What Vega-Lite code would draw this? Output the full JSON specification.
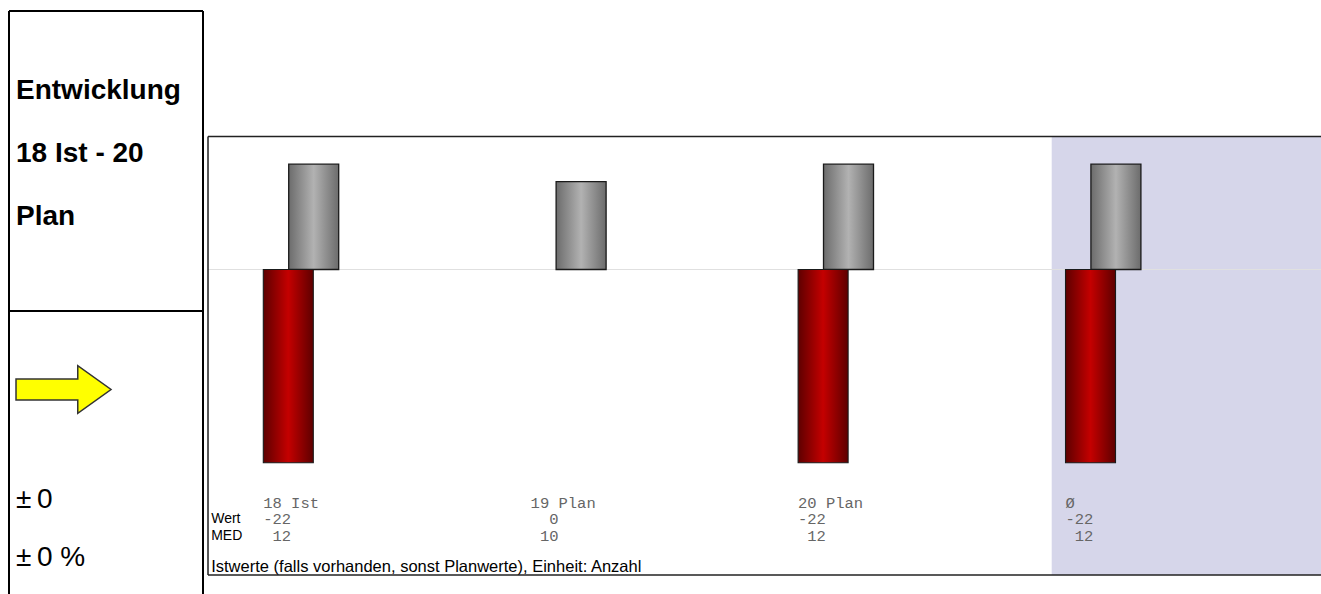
{
  "$schema": "https://vega.github.io/schema/vega-lite/v6.json",
  "padding": {"left": 8, "top": 10, "right": 0, "bottom": 0},
  "background": "white",
  "bounds": "flush",
  "spacing": 5,
  "config": {"view": {"stroke": null}},
  "datasets": {
    "bars": [
      {"kat": "18 Ist", "wert": -22, "med": 12},
      {"kat": "19 Plan", "wert": 0, "med": 10},
      {"kat": "20 Plan", "wert": -22, "med": 12},
      {"kat": "Ø", "wert": -22, "med": 12}
    ]
  },
  "resolve": {"scale": {"x": "independent", "y": "independent"}},
  "hconcat": [
    {
      "width": 194,
      "height": 584,
      "data": {"values": [{}]},
      "layer": [
        {
          "mark": {"type": "rule", "color": "black", "strokeWidth": 2},
          "encoding": {
            "x": {"datum": 0, "type": "quantitative", "scale": {"domain": [0, 1], "nice": false}, "axis": null},
            "x2": {"datum": 1},
            "y": {"datum": 1, "type": "quantitative", "scale": {"domain": [0, 1], "nice": false}, "axis": null}
          }
        },
        {
          "mark": {"type": "rule", "color": "black", "strokeWidth": 2},
          "encoding": {
            "x": {"datum": 0, "type": "quantitative", "scale": {"domain": [0, 1], "nice": false}, "axis": null},
            "x2": {"datum": 1},
            "y": {"datum": 0.4863, "type": "quantitative", "scale": {"domain": [0, 1], "nice": false}, "axis": null}
          }
        },
        {
          "mark": {"type": "rule", "color": "black", "strokeWidth": 2},
          "encoding": {
            "x": {"datum": 0, "type": "quantitative", "scale": {"domain": [0, 1], "nice": false}, "axis": null},
            "y": {"datum": 0, "type": "quantitative", "scale": {"domain": [0, 1], "nice": false}, "axis": null},
            "y2": {"datum": 1}
          }
        },
        {
          "mark": {"type": "rule", "color": "black", "strokeWidth": 2},
          "encoding": {
            "x": {"datum": 1, "type": "quantitative", "scale": {"domain": [0, 1], "nice": false}, "axis": null},
            "y": {"datum": 0, "type": "quantitative", "scale": {"domain": [0, 1], "nice": false}, "axis": null},
            "y2": {"datum": 1}
          }
        },
        {
          "mark": {"type": "text", "text": "Entwicklung", "font": "Liberation Sans", "fontWeight": "bold", "fontSize": 28, "align": "left", "baseline": "alphabetic", "dx": 7, "color": "black"},
          "encoding": {
            "x": {"datum": 0, "type": "quantitative", "scale": {"domain": [0, 1], "nice": false}, "axis": null},
            "y": {"datum": 0.8493, "type": "quantitative", "scale": {"domain": [0, 1], "nice": false}, "axis": null}
          }
        },
        {
          "mark": {"type": "text", "text": "18 Ist - 20", "font": "Liberation Sans", "fontWeight": "bold", "fontSize": 28, "align": "left", "baseline": "alphabetic", "dx": 7, "color": "black"},
          "encoding": {
            "x": {"datum": 0, "type": "quantitative", "scale": {"domain": [0, 1], "nice": false}, "axis": null},
            "y": {"datum": 0.7414, "type": "quantitative", "scale": {"domain": [0, 1], "nice": false}, "axis": null}
          }
        },
        {
          "mark": {"type": "text", "text": "Plan", "font": "Liberation Sans", "fontWeight": "bold", "fontSize": 28, "align": "left", "baseline": "alphabetic", "dx": 7, "color": "black"},
          "encoding": {
            "x": {"datum": 0, "type": "quantitative", "scale": {"domain": [0, 1], "nice": false}, "axis": null},
            "y": {"datum": 0.6336, "type": "quantitative", "scale": {"domain": [0, 1], "nice": false}, "axis": null}
          }
        },
        {
          "mark": {"type": "point", "shape": "M -1 -0.22 L 0.3 -0.22 L 0.3 -0.5 L 1 0 L 0.3 0.5 L 0.3 0.22 L -1 0.22 Z", "size": 9025, "filled": true, "fill": "#ffff00", "stroke": "#333333", "strokeWidth": 1.5, "opacity": 1},
          "encoding": {
            "x": {"datum": 0.281, "type": "quantitative", "scale": {"domain": [0, 1], "nice": false}, "axis": null},
            "y": {"datum": 0.3519, "type": "quantitative", "scale": {"domain": [0, 1], "nice": false}, "axis": null}
          }
        },
        {
          "mark": {"type": "text", "text": "±\u20090", "font": "Liberation Sans", "fontSize": 28, "align": "left", "baseline": "alphabetic", "dx": 7, "color": "black"},
          "encoding": {
            "x": {"datum": 0, "type": "quantitative", "scale": {"domain": [0, 1], "nice": false}, "axis": null},
            "y": {"datum": 0.149, "type": "quantitative", "scale": {"domain": [0, 1], "nice": false}, "axis": null}
          }
        },
        {
          "mark": {"type": "text", "text": "±\u20090 %", "font": "Liberation Sans", "fontSize": 28, "align": "left", "baseline": "alphabetic", "dx": 7, "color": "black"},
          "encoding": {
            "x": {"datum": 0, "type": "quantitative", "scale": {"domain": [0, 1], "nice": false}, "axis": null},
            "y": {"datum": 0.0497, "type": "quantitative", "scale": {"domain": [0, 1], "nice": false}, "axis": null}
          }
        }
      ]
    },
    {
      "width": 1114,
      "height": 584,
      "data": {"name": "bars"},
      "layer": [
        {
          "data": {"values": [{}]},
          "mark": {"type": "rect", "color": "#d6d6ea"},
          "encoding": {
            "x": {"datum": "Ø", "type": "nominal", "bandPosition": 0, "scale": {"domain": ["18 Ist", "19 Plan", "20 Plan", "Ø"], "paddingInner": 0, "paddingOuter": 0.083, "align": 0.935}, "axis": null},
            "x2": {"value": "width"},
            "y": {"datum": 15.15, "type": "quantitative", "scale": {"domain": [-37.07, 29.44], "nice": false, "zero": false}, "axis": null},
            "y2": {"datum": -34.79}
          }
        },
        {
          "data": {"values": [{}]},
          "mark": {"type": "rule", "color": "#e0e0e0", "strokeWidth": 1},
          "encoding": {
            "x": {"value": 0},
            "x2": {"value": "width"},
            "y": {"datum": 0, "type": "quantitative", "scale": {"domain": [-37.07, 29.44], "nice": false, "zero": false}, "axis": null}
          }
        },
        {
          "mark": {"type": "bar", "width": 50, "xOffset": -69.5, "stroke": "#1a1a1a", "strokeWidth": 1.3,
            "fill": {"gradient": "linear", "x1": 0, "x2": 1, "y1": 0, "y2": 0, "stops": [{"offset": 0, "color": "#6c6c6c"}, {"offset": 0.5, "color": "#b2b2b2"}, {"offset": 1, "color": "#6c6c6c"}]}},
          "encoding": {
            "x": {"field": "kat", "type": "nominal", "scale": {"domain": ["18 Ist", "19 Plan", "20 Plan", "Ø"], "paddingInner": 0, "paddingOuter": 0.083, "align": 0.935}, "axis": null},
            "y": {"field": "med", "type": "quantitative", "scale": {"domain": [-37.07, 29.44], "nice": false, "zero": false}, "axis": null},
            "y2": {"datum": 0}
          }
        },
        {
          "transform": [{"filter": "datum.wert != 0"}],
          "mark": {"type": "bar", "width": 50, "xOffset": -94.9, "stroke": "#1a1a1a", "strokeWidth": 1.1,
            "fill": {"gradient": "linear", "x1": 0, "x2": 1, "y1": 0, "y2": 0, "stops": [{"offset": 0, "color": "#5e0000"}, {"offset": 0.5, "color": "#c40000"}, {"offset": 1, "color": "#5e0000"}]}},
          "encoding": {
            "x": {"field": "kat", "type": "nominal", "scale": {"domain": ["18 Ist", "19 Plan", "20 Plan", "Ø"], "paddingInner": 0, "paddingOuter": 0.083, "align": 0.935}, "axis": null},
            "y": {"field": "wert", "type": "quantitative", "scale": {"domain": [-37.07, 29.44], "nice": false, "zero": false}, "axis": null},
            "y2": {"datum": 0}
          }
        },
        {
          "mark": {"type": "text", "align": "left", "baseline": "middle", "dx": -120, "font": "Liberation Mono", "fontSize": 15.5, "color": "#666666"},
          "encoding": {
            "x": {"field": "kat", "type": "nominal", "scale": {"domain": ["18 Ist", "19 Plan", "20 Plan", "Ø"], "paddingInner": 0, "paddingOuter": 0.083, "align": 0.935}, "axis": null},
            "y": {"datum": -26.6, "type": "quantitative", "scale": {"domain": [-37.07, 29.44], "nice": false, "zero": false}, "axis": null},
            "text": {"field": "kat"}
          }
        },
        {
          "mark": {"type": "text", "align": "right", "baseline": "middle", "dx": -92.1, "font": "Liberation Mono", "fontSize": 15.5, "color": "#666666"},
          "encoding": {
            "x": {"field": "kat", "type": "nominal", "scale": {"domain": ["18 Ist", "19 Plan", "20 Plan", "Ø"], "paddingInner": 0, "paddingOuter": 0.083, "align": 0.935}, "axis": null},
            "y": {"datum": -28.42, "type": "quantitative", "scale": {"domain": [-37.07, 29.44], "nice": false, "zero": false}, "axis": null},
            "text": {"field": "wert", "type": "nominal"}
          }
        },
        {
          "mark": {"type": "text", "align": "right", "baseline": "middle", "dx": -92.1, "font": "Liberation Mono", "fontSize": 15.5, "color": "#666666"},
          "encoding": {
            "x": {"field": "kat", "type": "nominal", "scale": {"domain": ["18 Ist", "19 Plan", "20 Plan", "Ø"], "paddingInner": 0, "paddingOuter": 0.083, "align": 0.935}, "axis": null},
            "y": {"datum": -30.32, "type": "quantitative", "scale": {"domain": [-37.07, 29.44], "nice": false, "zero": false}, "axis": null},
            "text": {"field": "med", "type": "nominal"}
          }
        },
        {
          "data": {"values": [{}]},
          "mark": {"type": "text", "text": "Wert", "align": "left", "baseline": "middle", "dx": -172, "font": "Liberation Sans", "fontSize": 14, "color": "black"},
          "encoding": {
            "x": {"datum": "18 Ist", "type": "nominal", "scale": {"domain": ["18 Ist", "19 Plan", "20 Plan", "Ø"], "paddingInner": 0, "paddingOuter": 0.083, "align": 0.935}, "axis": null},
            "y": {"datum": -28.42, "type": "quantitative", "scale": {"domain": [-37.07, 29.44], "nice": false, "zero": false}, "axis": null}
          }
        },
        {
          "data": {"values": [{}]},
          "mark": {"type": "text", "text": "MED", "align": "left", "baseline": "middle", "dx": -172, "font": "Liberation Sans", "fontSize": 14, "color": "black"},
          "encoding": {
            "x": {"datum": "18 Ist", "type": "nominal", "scale": {"domain": ["18 Ist", "19 Plan", "20 Plan", "Ø"], "paddingInner": 0, "paddingOuter": 0.083, "align": 0.935}, "axis": null},
            "y": {"datum": -30.32, "type": "quantitative", "scale": {"domain": [-37.07, 29.44], "nice": false, "zero": false}, "axis": null}
          }
        },
        {
          "data": {"values": [{}]},
          "mark": {"type": "text", "text": "Istwerte (falls vorhanden, sonst Planwerte), Einheit: Anzahl", "align": "left", "baseline": "middle", "dx": -172, "font": "Liberation Sans", "fontSize": 16.5, "color": "black"},
          "encoding": {
            "x": {"datum": "18 Ist", "type": "nominal", "scale": {"domain": ["18 Ist", "19 Plan", "20 Plan", "Ø"], "paddingInner": 0, "paddingOuter": 0.083, "align": 0.935}, "axis": null},
            "y": {"datum": -33.9, "type": "quantitative", "scale": {"domain": [-37.07, 29.44], "nice": false, "zero": false}, "axis": null}
          }
        },
        {
          "data": {"values": [{}]},
          "mark": {"type": "rule", "color": "#222222", "strokeWidth": 1.5},
          "encoding": {
            "x": {"value": 0},
            "x2": {"value": "width"},
            "y": {"datum": 15.15, "type": "quantitative", "scale": {"domain": [-37.07, 29.44], "nice": false, "zero": false}, "axis": null}
          }
        },
        {
          "data": {"values": [{}]},
          "mark": {"type": "rule", "color": "#222222", "strokeWidth": 1.5},
          "encoding": {
            "x": {"value": 0},
            "x2": {"value": "width"},
            "y": {"datum": -34.79, "type": "quantitative", "scale": {"domain": [-37.07, 29.44], "nice": false, "zero": false}, "axis": null}
          }
        },
        {
          "data": {"values": [{}]},
          "mark": {"type": "rule", "color": "#222222", "strokeWidth": 1.5},
          "encoding": {
            "x": {"value": 0},
            "y": {"datum": 15.15, "type": "quantitative", "scale": {"domain": [-37.07, 29.44], "nice": false, "zero": false}, "axis": null},
            "y2": {"datum": -34.79}
          }
        }
      ]
    }
  ]
}
